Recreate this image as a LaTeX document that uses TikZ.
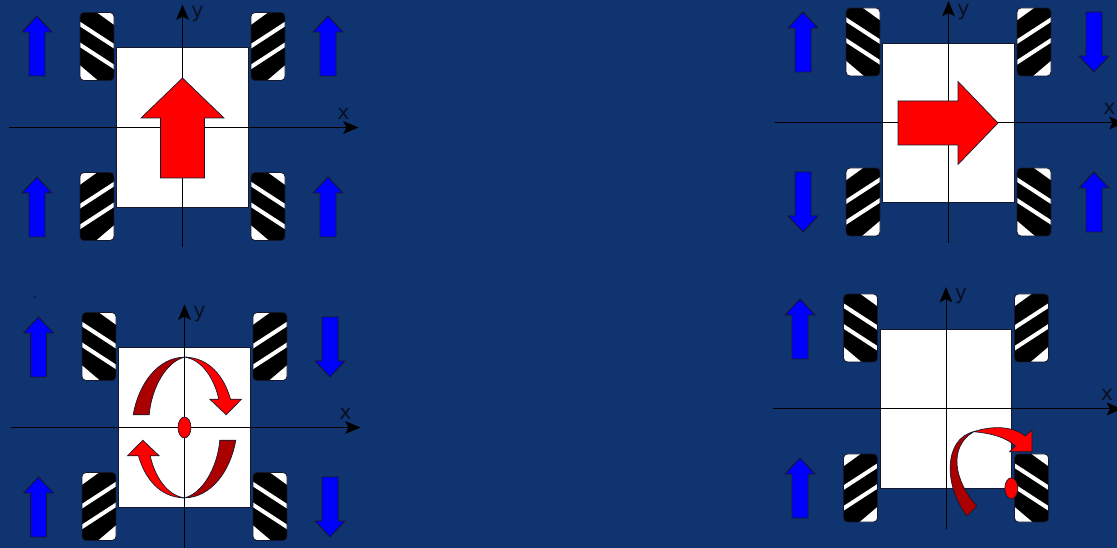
\documentclass[tikz,border=0pt]{standalone}
\usepackage{fontspec}
\setmainfont{DejaVu Sans}
\usetikzlibrary{arrows.meta}
\definecolor{bgnavy}{HTML}{10346F}
\definecolor{edgedark}{HTML}{14182C}
\definecolor{labeldark}{HTML}{0A1024}
\definecolor{darkred}{HTML}{AA0000}
\tikzset{
  x=0.75pt,y=-0.75pt,
  axisline/.style={black,line width=0.75pt,-{Stealth[length=11.5pt,width=9.5pt,inset=2.5pt]}},
  axislabel/.style={text=labeldark,font=\fontsize{15.5}{15.5}\selectfont,inner sep=0pt},
  bodybox/.style={draw=edgedark,line width=0.6pt,fill=white,minimum width=98.7pt,minimum height=119.6pt,inner sep=0pt,outer sep=0pt},
  wheelbox/.style={draw=edgedark,line width=0.6pt,rounded corners=3pt},
  bluearrow/.style={fill=blue,draw=edgedark,line width=0.7pt,line join=miter},
  redbright/.style={fill=red,draw=edgedark,line width=0.5pt,line join=miter},
  reddark/.style={fill=darkred,draw=edgedark,line width=0.5pt,line join=miter},
  redhub/.style={fill=red,draw=edgedark,line width=0.5pt},
}
% wheel centred at (#1,#2); #3 = 1 or -1 mirrors the tread
\newcommand{\wheelat}[3]{%
  \begin{scope}[shift={(#1,#2)},xscale=#3]
    \begin{scope}
      \clip[rounded corners=3pt] (-17,-34) rectangle (17,34);
      \fill[black] (-17,-34) rectangle (17,34);
      \fill[white] (0,-34) -- (18,-34) -- (18,-21) -- cycle;
      \fill[white] (-18,18) -- (-18,35) -- (2,35) -- cycle;
      \draw[white,line width=3pt] (-27,-28.9) -- (27,6.2);
      \draw[white,line width=3pt] (-27,-8.2) -- (27,26.9);
    \end{scope}
    \draw[wheelbox] (-17,-34) rectangle (17,34);
  \end{scope}}
% small blue arrow centred at (#1,#2); #3 = 1 up, -1 down
\newcommand{\drivearrow}[3]{%
  \begin{scope}[shift={(#1,#2)},yscale=#3]
    \draw[bluearrow] (0,-30) -- (15,-14) -- (8,-14) -- (8,30) -- (-8,30) -- (-8,-14) -- (-15,-14) -- cycle;
  \end{scope}}
% robot frame: body, axes and wheels, origin at (#2,#3), #1 = name prefix, #6 = y label height
\newcommand{\robot}[6]{%
  \begin{scope}[shift={(#2,#3)}]
    \wheelat{-85.5}{-81}{1}
    \wheelat{85.5}{-81}{-1}
    \wheelat{-85.5}{79}{-1}
    \wheelat{85.5}{79}{1}
    \node[bodybox] (#1body) at (0,0) {};
    \coordinate (#1xa) at (-173.5,0);
    \coordinate (#1xb) at (176,0);
    \coordinate (#1ya) at (0,#5);
    \coordinate (#1yb) at (0,#4);
    \draw[axisline] (#1xa) -- (#1xb);
    \draw[axisline] (#1ya) -- (#1yb);
    \node[axislabel] (#1xl) at (161,-14) {x};
    \node[axislabel] (#1yl) at (15,#6) {y};
  \end{scope}}
% half of the rotation arrow (upper one), in the frame of the robot
\newcommand{\spinhalf}{%
  \draw[reddark] (-51.3,-12.7) .. controls (-46,-44) and (-26,-70.3) .. (0,-70.3)
     .. controls (-18,-66) and (-33,-40) .. (-35.3,-12.7) -- cycle;
  \draw[redbright] (0,-70.3) .. controls (25,-70.3) and (40,-50) .. (46,-28.3)
     -- (57,-28.3) -- (41.7,-12.7) -- (25.3,-28.3) -- (34.3,-28.3)
     .. controls (30,-48) and (18,-68) .. (0,-70.3) -- cycle;}
\begin{document}
\begin{tikzpicture}
\useasboundingbox (0,0) rectangle (1117,548);
\fill[bgnavy] (0,0) rectangle (1117,548);
\clip (0,0) rectangle (1117,548);

% panel 1: forward
\robot{a}{182.5}{127.5}{-123}{120}{-113}
\drivearrow{37}{46}{1}
\drivearrow{328}{46}{1}
\drivearrow{37}{207}{1}
\drivearrow{328}{207}{1}
\begin{scope}[shift={(182.5,127.5)}]
  \draw[redbright] (0,-49.5) -- (41.5,-9.5) -- (22,-9.5) -- (22,50.5) -- (-22,50.5) -- (-22,-9.5) -- (-41.5,-9.5) -- cycle;
\end{scope}

% panel 2: sideways
\robot{b}{948.5}{123}{-122}{120}{-111}
\drivearrow{803}{42}{1}
\drivearrow{1094}{42}{-1}
\drivearrow{803}{202}{-1}
\drivearrow{1094}{202}{1}
\begin{scope}[shift={(948.5,123)}]
  \draw[redbright] (49.5,0) -- (9.5,41.5) -- (9.5,22) -- (-50.5,22) -- (-50.5,-22) -- (9.5,-22) -- (9.5,-41.5) -- cycle;
\end{scope}

% panel 3: rotation about the centre
\robot{c}{184.5}{427.5}{-123}{121}{-113}
\drivearrow{38.5}{347}{1}
\drivearrow{330}{347}{-1}
\drivearrow{38.5}{507}{1}
\drivearrow{330}{507}{-1}
\node[inner sep=0pt,text=labeldark,font=\fontsize{8}{8}\selectfont] (dashmark) at (35,299) {-};
\begin{scope}[shift={(184.5,427.5)}]
  \spinhalf
  \begin{scope}[rotate=180]
    \spinhalf
  \end{scope}
  \draw[redhub] (0,0) ellipse [x radius=6.5,y radius=10.5];
\end{scope}

% panel 4: rotation about a wheel
\robot{d}{946}{409}{-122}{120}{-113}
\drivearrow{800}{329}{1}
\drivearrow{800}{488}{1}
\begin{scope}[shift={(946,409)}]
  \draw[reddark] (21,107) .. controls (-2,78) and (-3,30) .. (27.7,22.7)
     .. controls (2,38) and (8,72) .. (31,97) -- cycle;
  \draw[redbright] (27.7,22.7) .. controls (47.7,16) and (67.7,17.7) .. (79.3,27)
     -- (86,21) -- (86,42.7) -- (63.7,42.7) -- (69.3,37)
     .. controls (59.3,27.7) and (44.3,24.3) .. (27.7,22.7) -- cycle;
  \draw[redhub] (65.3,79.3) ellipse [x radius=6.5,y radius=10.5];
\end{scope}
\end{tikzpicture}
\end{document}
